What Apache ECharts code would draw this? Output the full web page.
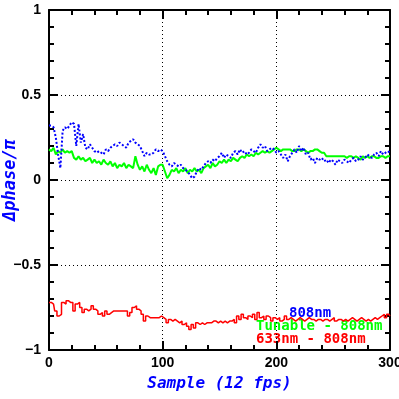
<!DOCTYPE html>
<html><head><meta charset="utf-8">
<script src="https://cdn.jsdelivr.net/npm/echarts@6/dist/echarts.min.js"></script>
<style>html,body{margin:0;padding:0;background:#fff}#c{width:399px;height:399px}</style>
</head><body><div id="c"></div>
<script>
// sample index step between stored values
const sampleStep = 2;
const xTicks = [0, 100, 200, 300];
const yTicks = [-1, -0.5, 0, 0.5, 1];
const seriesNames = ['808nm', 'Tunable - 808nm', '633nm - 808nm'];
const xTitle = 'Sample (12 fps)';
const yTitle = '\u0394phase/\u03c0';
const blue808 = [
0.32,0.32,0.31,0.25,0.15,0.07,0.29,0.31,0.30,0.32,
0.34,0.33,0.20,0.33,0.22,0.27,0.19,0.18,0.21,0.19,
0.17,0.16,0.17,0.16,0.15,0.18,0.17,0.19,0.20,0.21,
0.20,0.22,0.21,0.20,0.19,0.22,0.23,0.24,0.22,0.21,
0.20,0.17,0.14,0.16,0.15,0.15,0.16,0.18,0.17,0.18,
0.17,0.14,0.11,0.09,0.08,0.10,0.09,0.08,0.09,0.07,
0.06,0.05,0.03,0.01,0.02,0.05,0.07,0.06,0.08,0.10,
0.11,0.10,0.12,0.11,0.13,0.14,0.16,0.13,0.15,0.14,
0.13,0.16,0.17,0.15,0.18,0.16,0.17,0.15,0.16,0.18,
0.17,0.16,0.19,0.21,0.19,0.20,0.17,0.18,0.19,0.18,
0.16,0.17,0.15,0.13,0.15,0.11,0.14,0.16,0.18,0.16,
0.20,0.17,0.19,0.15,0.16,0.12,0.13,0.10,0.13,0.12,
0.13,0.11,0.12,0.10,0.12,0.11,0.09,0.12,0.11,0.10,
0.12,0.11,0.10,0.12,0.13,0.11,0.12,0.14,0.12,0.13,
0.15,0.14,0.13,0.15,0.16,0.14,0.17,0.15,0.16,0.17,
0.16];
const greenTunable = [
0.18,0.17,0.19,0.15,0.17,0.16,0.18,0.16,0.17,0.16,
0.17,0.13,0.12,0.14,0.12,0.13,0.11,0.12,0.13,0.10,
0.12,0.10,0.11,0.09,0.12,0.10,0.09,0.11,0.08,0.10,
0.07,0.09,0.08,0.10,0.07,0.09,0.08,0.07,0.14,0.09,
0.06,0.08,0.05,0.09,0.06,0.04,0.07,0.03,0.08,0.09,
0.09,0.05,0.01,0.03,0.06,0.05,0.07,0.04,0.06,0.05,
0.07,0.04,0.06,0.05,0.07,0.05,0.06,0.04,0.07,0.08,
0.09,0.07,0.10,0.08,0.09,0.11,0.10,0.12,0.10,0.12,
0.11,0.13,0.12,0.11,0.13,0.14,0.13,0.15,0.14,0.15,
0.14,0.16,0.15,0.16,0.17,0.16,0.17,0.16,0.17,0.18,
0.19,0.18,0.17,0.18,0.18,0.18,0.18,0.17,0.17,0.18,
0.18,0.17,0.18,0.17,0.16,0.17,0.17,0.18,0.18,0.17,
0.16,0.16,0.14,0.14,0.14,0.14,0.14,0.14,0.14,0.14,
0.14,0.13,0.14,0.14,0.13,0.14,0.13,0.12,0.14,0.13,
0.14,0.13,0.14,0.14,0.13,0.13,0.14,0.14,0.13,0.14,
0.14];
const red633 = [
-0.72,-0.72,-0.73,-0.77,-0.80,-0.79,-0.72,-0.73,-0.71,-0.72,
-0.72,-0.77,-0.73,-0.72,-0.75,-0.78,-0.76,-0.77,-0.76,-0.74,
-0.76,-0.77,-0.79,-0.78,-0.80,-0.77,-0.79,-0.78,-0.77,-0.77,
-0.77,-0.77,-0.77,-0.77,-0.77,-0.80,-0.78,-0.75,-0.74,-0.76,
-0.77,-0.79,-0.83,-0.80,-0.81,-0.81,-0.81,-0.81,-0.81,-0.80,
-0.81,-0.82,-0.84,-0.82,-0.83,-0.82,-0.83,-0.84,-0.83,-0.85,
-0.84,-0.86,-0.88,-0.85,-0.87,-0.84,-0.85,-0.84,-0.85,-0.84,
-0.84,-0.84,-0.83,-0.83,-0.84,-0.83,-0.84,-0.83,-0.84,-0.83,
-0.83,-0.82,-0.84,-0.80,-0.82,-0.79,-0.81,-0.82,-0.80,-0.81,
-0.79,-0.82,-0.78,-0.81,-0.80,-0.82,-0.80,-0.81,-0.83,-0.81,
-0.82,-0.81,-0.83,-0.82,-0.80,-0.82,-0.81,-0.82,-0.83,-0.82,
-0.81,-0.82,-0.83,-0.82,-0.81,-0.82,-0.82,-0.83,-0.82,-0.82,
-0.83,-0.82,-0.82,-0.83,-0.82,-0.81,-0.83,-0.82,-0.82,-0.83,
-0.82,-0.83,-0.82,-0.81,-0.82,-0.83,-0.82,-0.81,-0.82,-0.83,
-0.82,-0.83,-0.82,-0.81,-0.82,-0.81,-0.80,-0.79,-0.81,-0.79,
-0.80];

function pairs(arr){ return arr.map((v,i)=>[i*sampleStep, v]); }
const chart = echarts.init(document.getElementById('c'), null, {renderer:'canvas'});
const lblFont = {color:'#000', fontFamily:'Liberation Sans', fontWeight:'bold', fontSize:14};
const fmt = v => String(v).replace('-', '\u2212');
const baseX = {type:'value', min:xTicks[0], max:xTicks[xTicks.length-1], interval:100,
  axisLine:{show:true, onZero:false, lineStyle:{color:'#000', width:2}},
  axisTick:{show:true, inside:true, length:9, lineStyle:{color:'#000', width:2}},
  minorTick:{show:true, splitNumber:5, length:5, lineStyle:{color:'#000', width:2}}};
const baseY = {type:'value', min:yTicks[0], max:yTicks[yTicks.length-1], interval:0.5,
  axisLine:{show:true, onZero:false, lineStyle:{color:'#000', width:2}},
  axisTick:{show:true, inside:true, length:9, lineStyle:{color:'#000', width:2}},
  minorTick:{show:true, splitNumber:5, length:5, lineStyle:{color:'#000', width:2}}};
chart.setOption({
  backgroundColor:'#fff',
  animation:false,
  grid:{left:49, right:9, top:10, bottom:49, containLabel:false, outerBoundsMode:'none'},
  xAxis:[
    Object.assign({}, baseX, {position:'bottom',
      axisLabel:Object.assign({margin:6, formatter:fmt}, lblFont),
      splitLine:{show:true, lineStyle:{color:'#000', type:[1,3], width:1}},
      name:xTitle, nameLocation:'middle', nameGap:26,
      nameTextStyle:{color:'#0000ff', fontFamily:'DejaVu Sans Mono', fontStyle:'italic', fontWeight:'bold', fontSize:16}}),
    Object.assign({}, baseX, {position:'top', axisLabel:{show:false}, splitLine:{show:false}})
  ],
  yAxis:[
    Object.assign({}, baseY, {position:'left',
      axisLabel:Object.assign({margin:8, formatter:fmt}, lblFont),
      splitLine:{show:true, lineStyle:{color:'#000', type:[1,3], width:1}}}),
    Object.assign({}, baseY, {position:'right', axisLabel:{show:false}, splitLine:{show:false}})
  ],
  series:[
    {name:seriesNames[2], type:'line', data:pairs(red633), showSymbol:false, step:'middle',
      lineStyle:{color:'#ff0000', width:1.5}, itemStyle:{color:'#ff0000'}},
    {name:seriesNames[1], type:'line', data:pairs(greenTunable), showSymbol:false,
      lineStyle:{color:'#00ff00', width:2}, itemStyle:{color:'#00ff00'}},
    {name:seriesNames[0], type:'line', data:pairs(blue808), showSymbol:false,
      lineStyle:{color:'#0000ff', width:2, type:[2,2]}, itemStyle:{color:'#0000ff'}}
  ],
  graphic:[
    {type:'text', x:11, y:180, rotation:Math.PI/2,
      style:{text:yTitle, fill:'#0000ff', align:'center', verticalAlign:'middle',
        font:'italic bold 17px "DejaVu Sans Mono"'}},
    {type:'text', left:289, top:306, style:{text:seriesNames[0], fill:'#0000ff', font:'bold 14px "DejaVu Sans Mono"'}},
    {type:'text', left:256, top:319, style:{text:seriesNames[1], fill:'#00ff00', font:'bold 14px "DejaVu Sans Mono"'}},
    {type:'text', left:256, top:332, style:{text:seriesNames[2], fill:'#ff0000', font:'bold 14px "DejaVu Sans Mono"'}}
  ]
});
</script></body></html>
